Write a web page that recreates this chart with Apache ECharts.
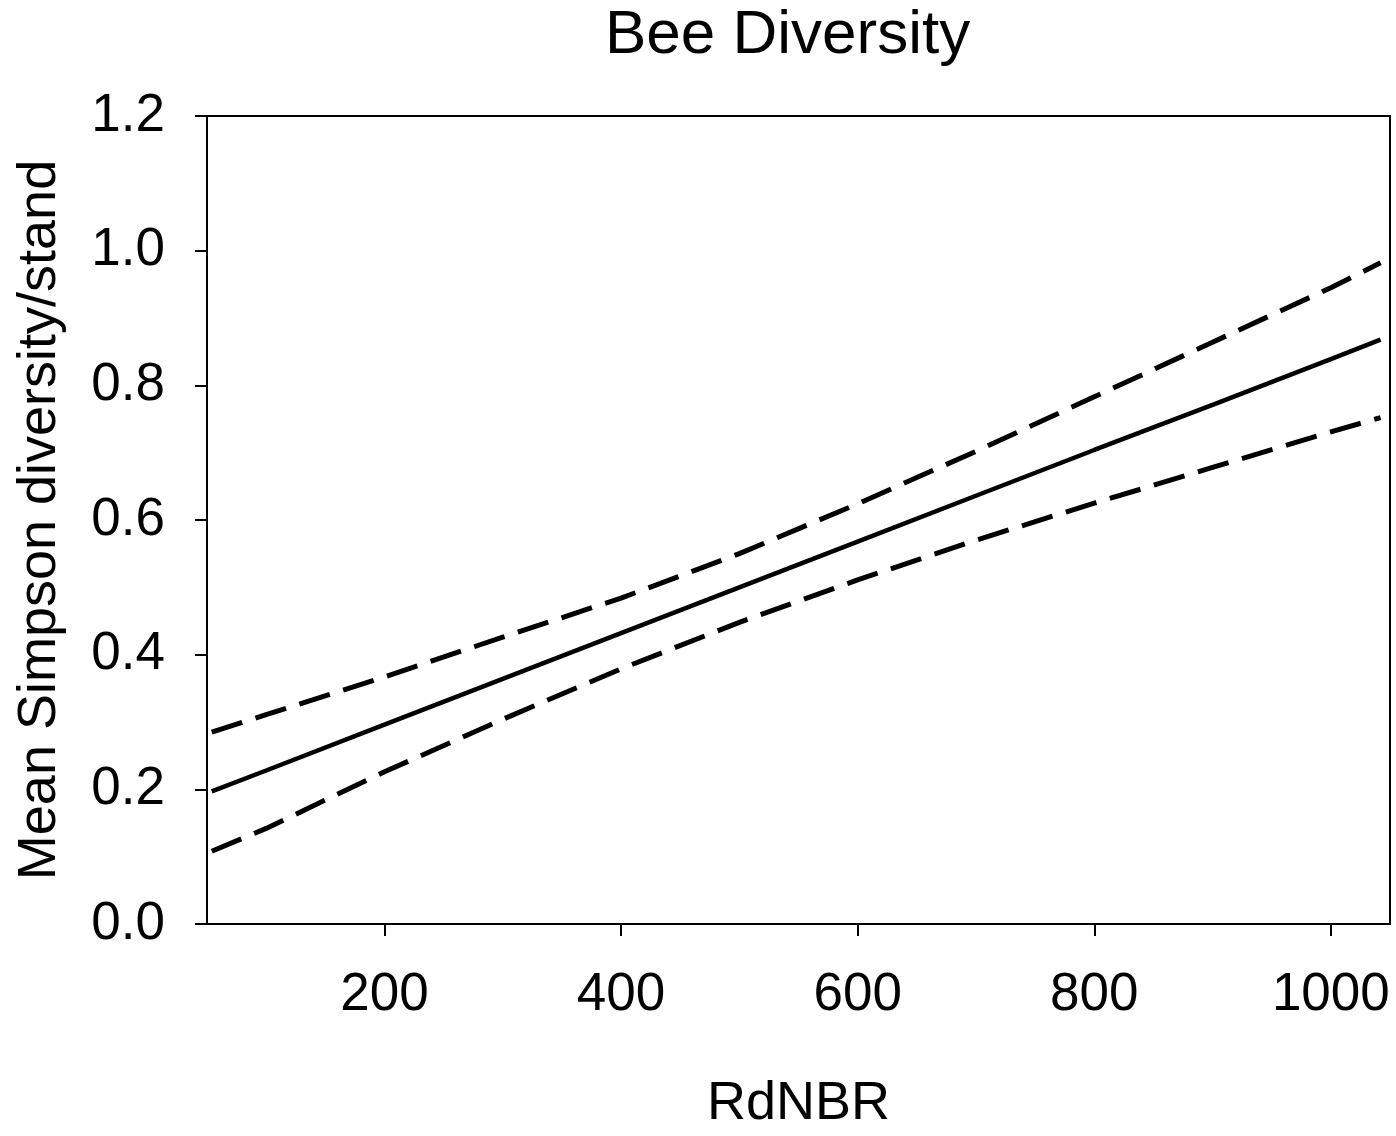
<!DOCTYPE html>
<html>
<head>
<meta charset="utf-8">
<script src="https://cdn.jsdelivr.net/npm/echarts@6/dist/echarts.min.js"></script>
<style>
html,body{margin:0;padding:0;background:#fff;}
#chart{width:1396px;height:1136px;}
</style>
</head>
<body>
<div id="chart"></div>
<script>
// RdNBR positions where values were read
const rdnbr = [54, 100, 200, 300, 400, 500, 600, 700, 800, 900, 1000, 1042];
// Fitted mean Simpson diversity (solid line)
const meanFit = [0.197, 0.228, 0.296, 0.364, 0.432, 0.500, 0.568, 0.636, 0.704, 0.771, 0.839, 0.868];
// Upper confidence band (dashed)
const upperCI = [0.285, 0.311, 0.367, 0.426, 0.484, 0.550, 0.624, 0.702, 0.783, 0.864, 0.945, 0.982];
// Lower confidence band (dashed)
const lowerCI = [0.108, 0.142, 0.226, 0.304, 0.379, 0.448, 0.511, 0.570, 0.625, 0.678, 0.731, 0.752];
// Axis tick labels
const xTicks = [200, 400, 600, 800, 1000];
const yTicks = [0.0, 0.2, 0.4, 0.6, 0.8, 1.0, 1.2];

const pair = (ys) => rdnbr.map((x, i) => [x, ys[i]]);

const font = 'Liberation Sans, Arial, sans-serif';
const chart = echarts.init(document.getElementById('chart'), null, {renderer: 'canvas'});
chart.setOption({
  animation: false,
  backgroundColor: '#fff',
  title: {
    text: 'Bee Diversity',
    left: 605,
    top: 5,
    padding: 0,
    textStyle: {fontFamily: font, fontSize: 62, fontWeight: 'normal', color: '#000'}
  },
  grid: {
    left: 207, right: 6, top: 116, bottom: 196,
    show: true, borderColor: '#000', borderWidth: 2, backgroundColor: 'transparent'
  },
  xAxis: {
    type: 'value',
    min: 50, max: 1050,
    name: 'RdNBR',
    nameLocation: 'middle',
    nameGap: 153,
    nameTextStyle: {fontFamily: font, fontSize: 54, color: '#000'},
    axisLine: {show: true, lineStyle: {color: '#000', width: 2}},
    axisTick: {show: true, length: 12, lineStyle: {color: '#000', width: 2}, customValues: xTicks},
    axisLabel: {customValues: xTicks, margin: 45, fontFamily: font, fontSize: 53, color: '#000',
      formatter: (v) => String(v)},
    splitLine: {show: false}
  },
  yAxis: {
    type: 'value',
    min: 0, max: 1.2, interval: 0.2,
    name: 'Mean Simpson diversity/stand',
    nameLocation: 'middle',
    nameGap: 140,
    nameTextStyle: {fontFamily: font, fontSize: 54, color: '#000'},
    axisLine: {show: true, lineStyle: {color: '#000', width: 2}},
    axisTick: {show: true, length: 12, lineStyle: {color: '#000', width: 2}},
    axisLabel: {margin: 42, fontFamily: font, fontSize: 53, color: '#000',
      formatter: (v) => v.toFixed(1)},
    splitLine: {show: false}
  },
  series: [
    {type: 'line', data: pair(upperCI), showSymbol: false, symbol: 'none',
      lineStyle: {color: '#000', width: 5, type: [32, 14]}},
    {type: 'line', data: pair(meanFit), showSymbol: false, symbol: 'none',
      lineStyle: {color: '#000', width: 4.5, type: 'solid'}},
    {type: 'line', data: pair(lowerCI), showSymbol: false, symbol: 'none',
      lineStyle: {color: '#000', width: 5, type: [32, 14]}}
  ]
});
</script>
</body>
</html>
